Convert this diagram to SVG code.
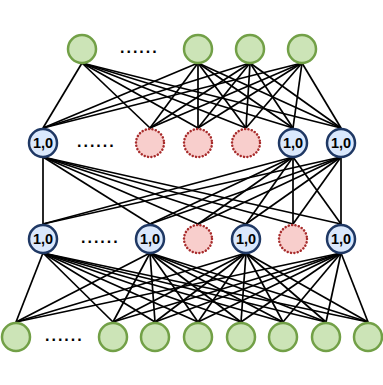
<svg xmlns="http://www.w3.org/2000/svg" width="383" height="385" viewBox="0 0 383 385">
<style>
.g{fill:#cce4b7;stroke:#72a047;stroke-width:2.5}
.b{fill:#dae8fc;stroke:#1f3864;stroke-width:2.5}
.r{fill:#f8cecc;stroke:#a82c2c;stroke-width:2.5;stroke-dasharray:0.1 3.3;stroke-linecap:round}
.t{font-family:"Liberation Sans",Arial,sans-serif;font-weight:bold;font-size:14.5px;fill:#000;text-anchor:middle;dominant-baseline:central}
.d{font-family:"Liberation Sans",Arial,sans-serif;font-weight:bold;font-size:16px;fill:#000;letter-spacing:2px}
#edges line{stroke:#000;stroke-width:1.7}
</style>
<rect width="383" height="385" fill="#fff"/>
<g id="edges">
<line x1="82" y1="63" x2="43" y2="128"/><line x1="82" y1="63" x2="150" y2="128"/><line x1="82" y1="63" x2="198" y2="128"/><line x1="82" y1="63" x2="246" y2="128"/><line x1="82" y1="63" x2="293" y2="128"/><line x1="82" y1="63" x2="341" y2="128"/>
<line x1="198" y1="63" x2="43" y2="128"/><line x1="198" y1="63" x2="150" y2="128"/><line x1="198" y1="63" x2="198" y2="128"/><line x1="198" y1="63" x2="246" y2="128"/><line x1="198" y1="63" x2="293" y2="128"/><line x1="198" y1="63" x2="341" y2="128"/>
<line x1="250" y1="63" x2="43" y2="128"/><line x1="250" y1="63" x2="150" y2="128"/><line x1="250" y1="63" x2="198" y2="128"/><line x1="250" y1="63" x2="246" y2="128"/><line x1="250" y1="63" x2="293" y2="128"/><line x1="250" y1="63" x2="341" y2="128"/>
<line x1="302" y1="63" x2="43" y2="128"/><line x1="302" y1="63" x2="150" y2="128"/><line x1="302" y1="63" x2="198" y2="128"/><line x1="302" y1="63" x2="246" y2="128"/><line x1="302" y1="63" x2="293" y2="128"/><line x1="302" y1="63" x2="341" y2="128"/>
<line x1="43" y1="157" x2="43" y2="224"/><line x1="43" y1="157" x2="150" y2="224"/><line x1="43" y1="157" x2="198" y2="224"/><line x1="43" y1="157" x2="246" y2="224"/><line x1="43" y1="157" x2="293" y2="224"/><line x1="43" y1="157" x2="341" y2="224"/>
<line x1="293" y1="157" x2="43" y2="224"/><line x1="293" y1="157" x2="150" y2="224"/><line x1="293" y1="157" x2="198" y2="224"/><line x1="293" y1="157" x2="246" y2="224"/><line x1="293" y1="157" x2="293" y2="224"/><line x1="293" y1="157" x2="341" y2="224"/>
<line x1="341" y1="157" x2="43" y2="224"/><line x1="341" y1="157" x2="150" y2="224"/><line x1="341" y1="157" x2="198" y2="224"/><line x1="341" y1="157" x2="246" y2="224"/><line x1="341" y1="157" x2="293" y2="224"/><line x1="341" y1="157" x2="341" y2="224"/>
<line x1="43" y1="253" x2="16" y2="322"/><line x1="43" y1="253" x2="113" y2="322"/><line x1="43" y1="253" x2="155" y2="322"/><line x1="43" y1="253" x2="198" y2="322"/><line x1="43" y1="253" x2="241" y2="322"/><line x1="43" y1="253" x2="283" y2="322"/><line x1="43" y1="253" x2="326" y2="322"/><line x1="43" y1="253" x2="368" y2="322"/>
<line x1="150" y1="253" x2="16" y2="322"/><line x1="150" y1="253" x2="113" y2="322"/><line x1="150" y1="253" x2="155" y2="322"/><line x1="150" y1="253" x2="198" y2="322"/><line x1="150" y1="253" x2="241" y2="322"/><line x1="150" y1="253" x2="283" y2="322"/><line x1="150" y1="253" x2="326" y2="322"/><line x1="150" y1="253" x2="368" y2="322"/>
<line x1="246" y1="253" x2="16" y2="322"/><line x1="246" y1="253" x2="113" y2="322"/><line x1="246" y1="253" x2="155" y2="322"/><line x1="246" y1="253" x2="198" y2="322"/><line x1="246" y1="253" x2="241" y2="322"/><line x1="246" y1="253" x2="283" y2="322"/><line x1="246" y1="253" x2="326" y2="322"/><line x1="246" y1="253" x2="368" y2="322"/>
<line x1="341" y1="253" x2="16" y2="322"/><line x1="341" y1="253" x2="113" y2="322"/><line x1="341" y1="253" x2="155" y2="322"/><line x1="341" y1="253" x2="198" y2="322"/><line x1="341" y1="253" x2="241" y2="322"/><line x1="341" y1="253" x2="283" y2="322"/><line x1="341" y1="253" x2="326" y2="322"/><line x1="341" y1="253" x2="368" y2="322"/>
</g>
<g id="in1"><circle class="g" cx="82" cy="49" r="14"/></g>
<g id="in-dots"><text class="d" x="120" y="53">......</text></g>
<g id="in2"><circle class="g" cx="198" cy="49" r="14"/></g>
<g id="in3"><circle class="g" cx="250" cy="49" r="14"/></g>
<g id="in4"><circle class="g" cx="302" cy="49" r="14"/></g>
<g id="h1a"><circle class="b" cx="43" cy="143" r="14"/><text class="t" x="43" y="143">1,0</text></g>
<g id="h1-dots"><text class="d" x="77" y="147">......</text></g>
<g id="h1b"><circle class="r" cx="150" cy="143" r="14"/></g>
<g id="h1c"><circle class="r" cx="198" cy="143" r="14"/></g>
<g id="h1d"><circle class="r" cx="246" cy="143" r="14"/></g>
<g id="h1e"><circle class="b" cx="293" cy="143" r="14"/><text class="t" x="293" y="143">1,0</text></g>
<g id="h1f"><circle class="b" cx="341" cy="143" r="14"/><text class="t" x="341" y="143">1,0</text></g>
<g id="h2a"><circle class="b" cx="43" cy="239" r="14"/><text class="t" x="43" y="239">1,0</text></g>
<g id="h2-dots"><text class="d" x="81" y="243">......</text></g>
<g id="h2b"><circle class="b" cx="150" cy="239" r="14"/><text class="t" x="150" y="239">1,0</text></g>
<g id="h2c"><circle class="r" cx="198" cy="239" r="14"/></g>
<g id="h2d"><circle class="b" cx="246" cy="239" r="14"/><text class="t" x="246" y="239">1,0</text></g>
<g id="h2e"><circle class="r" cx="293" cy="239" r="14"/></g>
<g id="h2f"><circle class="b" cx="341" cy="239" r="14"/><text class="t" x="341" y="239">1,0</text></g>
<g id="o1"><circle class="g" cx="16" cy="337" r="14"/></g>
<g id="o-dots"><text class="d" x="45" y="341">......</text></g>
<g id="o2"><circle class="g" cx="113" cy="337" r="14"/></g>
<g id="o3"><circle class="g" cx="155" cy="337" r="14"/></g>
<g id="o4"><circle class="g" cx="198" cy="337" r="14"/></g>
<g id="o5"><circle class="g" cx="241" cy="337" r="14"/></g>
<g id="o6"><circle class="g" cx="283" cy="337" r="14"/></g>
<g id="o7"><circle class="g" cx="326" cy="337" r="14"/></g>
<g id="o8"><circle class="g" cx="368" cy="337" r="14"/></g>
</svg>
